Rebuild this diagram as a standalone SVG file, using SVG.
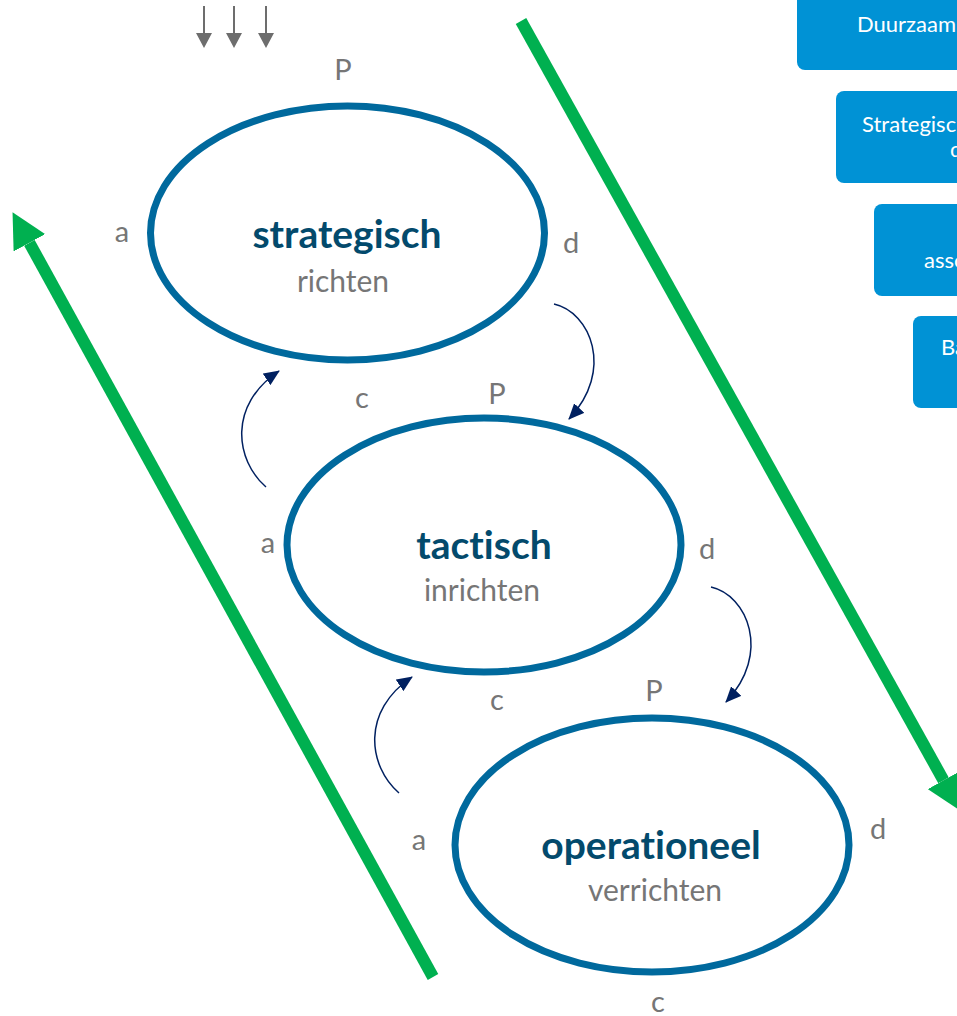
<svg xmlns="http://www.w3.org/2000/svg" width="957" height="1016" viewBox="0 0 957 1016">
<style>
text{font-variant-ligatures:none;font-feature-settings:"liga" 0}
.ell{fill:#ffffff;stroke:#00699d;stroke-width:7}
.title{font-family:Lato,"Open Sans","Liberation Sans",sans-serif;font-weight:bold;font-size:39px;fill:#034a6c;text-anchor:middle}
.sub{font-family:Lato,"Open Sans","Liberation Sans",sans-serif;font-size:30px;fill:#767676;text-anchor:middle}
.lbl{font-family:Lato,"Open Sans","Liberation Sans",sans-serif;font-size:29px;fill:#767676;text-anchor:middle}
.box{fill:#0092d5}
.btxt{font-family:Lato,"Open Sans","Liberation Sans",sans-serif;font-size:22px;fill:#ffffff}
.green{stroke:#00b050;stroke-width:12;fill:none}
.loop{stroke:#002060;stroke-width:1.5;fill:none}
.grey{stroke:#6d6d6d;stroke-width:2;fill:none}
</style>
<defs>
<marker id="gh" markerUnits="userSpaceOnUse" markerWidth="36" markerHeight="36" viewBox="0 0 36 36" refX="0" refY="18" orient="auto">
<path d="M0,0 L35,18 L0,36 z" fill="#00b050"/>
</marker>
<marker id="nh" markerUnits="userSpaceOnUse" markerWidth="16" markerHeight="14" viewBox="0 0 16 14" refX="15" refY="7" orient="auto">
<path d="M0,0 L16,7 L0,14 z" fill="#002060"/>
</marker>
<marker id="dh" markerUnits="userSpaceOnUse" markerWidth="16" markerHeight="16" viewBox="0 0 16 16" refX="0" refY="8" orient="auto">
<path d="M0,0 L15,8 L0,16 z" fill="#6d6d6d"/>
</marker>
</defs>

<g id="inputs">
<line class="grey" x1="204" y1="6" x2="204" y2="33" marker-end="url(#dh)"/>
<line class="grey" x1="234" y1="6" x2="234" y2="33" marker-end="url(#dh)"/>
<line class="grey" x1="266" y1="6" x2="266" y2="33" marker-end="url(#dh)"/>
</g>

<g id="connectors">
<line class="green" x1="433" y1="977" x2="29.4" y2="242.8" marker-end="url(#gh)"/>
<line class="green" x1="521" y1="21" x2="943.5" y2="780.3" marker-end="url(#gh)"/>
<path class="loop" d="M554,304 C590,312 615,370 569,419" marker-end="url(#nh)"/>
<path class="loop" d="M711,587 C747,595 772,653 726,702" marker-end="url(#nh)"/>
<path class="loop" d="M266,487 C235,460 228,405 279,371" marker-end="url(#nh)"/>
<path class="loop" d="M399,793 C368,766 361,711 412,677" marker-end="url(#nh)"/>
</g>

<g id="strategisch">
<ellipse class="ell" cx="347.5" cy="233" rx="197" ry="127"/>
<text class="title" x="347" y="248">strategisch</text>
<text class="sub" x="343" y="292">richten</text>
<text class="lbl" x="343" y="80">P</text>
<text class="lbl" x="122" y="242">a</text>
<text class="lbl" x="571" y="253">d</text>
<text class="lbl" x="362" y="408">c</text>
</g>

<g id="tactisch">
<ellipse class="ell" cx="484" cy="545" rx="197" ry="127"/>
<text class="title" x="484" y="559">tactisch</text>
<text class="sub" x="482" y="601">inrichten</text>
<text class="lbl" x="497" y="404">P</text>
<text class="lbl" x="268" y="553">a</text>
<text class="lbl" x="707" y="559">d</text>
<text class="lbl" x="497" y="710">c</text>
</g>

<g id="operationeel">
<ellipse class="ell" cx="652" cy="845" rx="197" ry="127"/>
<text class="title" x="651" y="859">operationeel</text>
<text class="sub" x="655" y="901">verrichten</text>
<text class="lbl" x="654" y="701">P</text>
<text class="lbl" x="419" y="850">a</text>
<text class="lbl" x="878" y="839">d</text>
<text class="lbl" x="658" y="1012">c</text>
</g>

<g id="box1">
<rect class="box" x="797" y="-22" width="250" height="92" rx="8"/>
<text class="btxt" x="857" y="32">Duurzaam</text>
</g>
<g id="box2">
<rect class="box" x="836" y="91" width="250" height="92" rx="8"/>
<text class="btxt" x="862" y="132">Strategisc</text>
<text class="btxt" x="950" y="157">do</text>
</g>
<g id="box3">
<rect class="box" x="874" y="204" width="250" height="92" rx="8"/>
<text class="btxt" x="924" y="268">asso</text>
</g>
<g id="box4">
<rect class="box" x="913" y="316" width="250" height="92" rx="8"/>
<text class="btxt" x="941" y="355">Ba</text>
</g>
</svg>
